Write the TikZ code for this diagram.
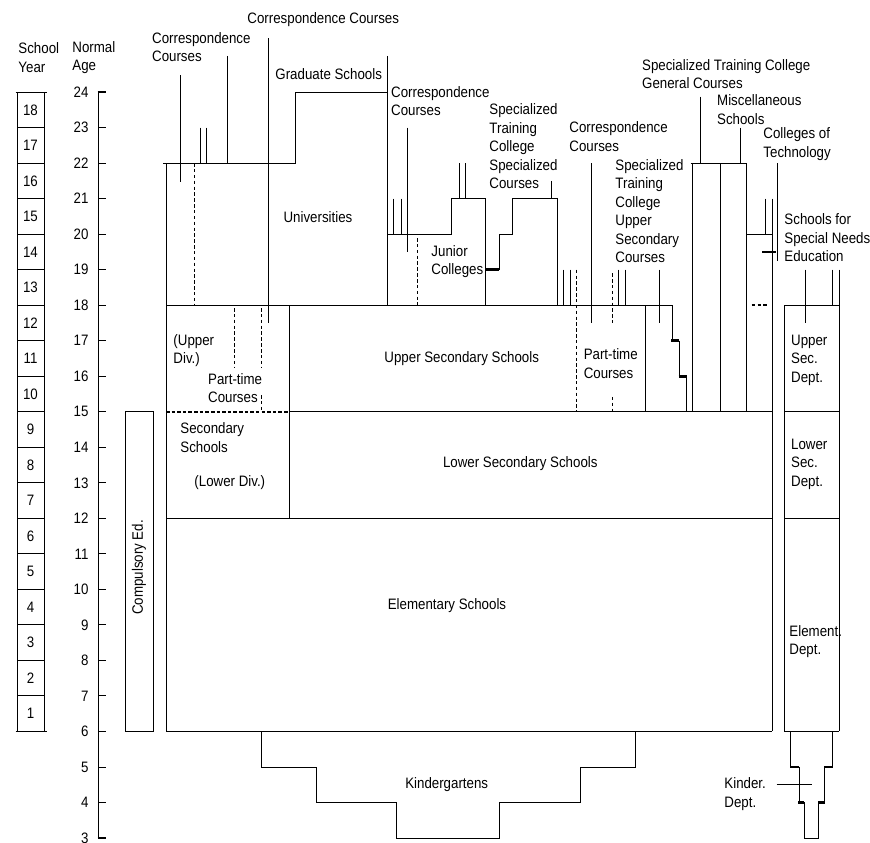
\documentclass[tikz,border=0pt]{standalone}
\usepackage{fontspec}
\setmainfont{Liberation Sans}[FakeStretch=0.88]
\newcommand\lblf{\fontsize{12.9}{15.8}\selectfont}
\begin{document}
\begin{tikzpicture}[x=0.03cm, y=1.0656cm, line width=0.8pt,
  lbl/.style={inner sep=0pt, align=left, font=\lblf},
  thk/.style={line width=2.2pt},
  dsh/.style={dash pattern=on 3pt off 2pt},
  tdsh/.style={line width=1.8pt, dash pattern=on 3pt off 1.8pt}]
\useasboundingbox (0,2.887) rectangle (870,26.592);

% ---------- School year column ----------
\draw (17,6) rectangle (44.5,24);
\foreach \a in {7,...,23} \draw (17,\a) -- (44.5,\a);
\draw (15.5,24) -- (46.5,24);
\draw (15.5,6) -- (46.5,6);
\foreach \n in {1,...,18} \node[lbl] (sy\n) at (30.5,5.5+\n) {\n};
\node[lbl, anchor=west] (syh) at (18,24.975) {School\\Year};

% ---------- Age axis ----------
\draw (98,3) -- (98,24);
\foreach \a in {4,...,23} \draw (98,\a) -- (106,\a);
\draw[line width=1.8pt] (97.5,24) -- (106,24);
\draw[line width=1.8pt] (97.5,3) -- (106,3);
\foreach \a in {3,...,24} \node[lbl, anchor=east] (ag\a) at (89,\a) {\a};
\node[lbl, anchor=west] (agh) at (72,24.975) {Normal\\Age};

% ---------- Compulsory ----------
\draw (125,6) rectangle (153,15);
\node[lbl, rotate=90] (comp) at (139,10.62) {Compulsory Ed.};

% ---------- Main frame ----------
\draw (166,6) -- (166,22);
\draw (163,22) -- (295,22) -- (295,24) -- (387,24);
\draw (387,25.02) -- (387,18);
\draw (166,18) -- (672,18);
\draw (166,12) -- (772,12);
\draw (166,6) -- (772,6);
\draw (772,21) -- (772,6);
\draw (289,18) -- (289,12);
\draw[tdsh] (166,15) -- (289,15);
\draw (289,15) -- (772,15);

% left correspondence / university lines
\draw (180,24.48) -- (180,21.47);
\draw (200.7,23) -- (200.7,22);
\draw (206.7,23) -- (206.7,22);
\draw (227.7,25.02) -- (227.7,22);
\draw (268,25.52) -- (268,17.5);
\draw[dsh] (194,22) -- (194,18);
\draw[dsh] (234.3,17.92) -- (234.3,16.26);
\draw[dsh] (261.7,17.92) -- (261.7,16.26);
\draw[dsh] (261.7,15.47) -- (261.7,15);

% junior colleges
\draw (387,20) -- (451.7,20) -- (451.7,21) -- (485.7,21) -- (485.7,18);
\draw (393.3,21) -- (393.3,20);
\draw (401,21) -- (401,20);
\draw (407.7,23) -- (407.7,19.5);
\draw[dsh] (417.7,19.89) -- (417.7,18);
\draw (459.3,22) -- (459.3,21);
\draw (465.7,22) -- (465.7,21);

% specialized training college specialized courses
\draw[thk] (485.7,19) -- (499,19);
\draw (499,19) -- (499,20) -- (512.7,20) -- (512.7,21) -- (557.3,21) -- (557.3,18);
\draw (551,21.5) -- (551,21);
\draw (563.3,19) -- (563.3,18);
\draw (570,19) -- (570,18);
\draw[dsh] (576.7,19) -- (576.7,15);
\draw (591,22) -- (591,17.5);
\draw[dsh] (612.3,18.9) -- (612.3,17.5);
\draw[dsh] (612.3,15.42) -- (612.3,15);
\draw (618.3,19) -- (618.3,18);
\draw (625,19) -- (625,18);
\draw (645,18) -- (645,15);
\draw (659,19) -- (659,17.5);

% STC upper secondary steps
\draw (672,18) -- (672,17);
\draw[thk] (671.2,17) -- (679.3,17);
\draw (679.3,17) -- (679.3,16);
\draw[thk] (678.5,16) -- (686.7,16);
\draw (686.7,16) -- (686.7,15);

% general courses / miscellaneous
\draw (690.7,22) -- (746.7,22);
\draw (692.5,22) -- (692.5,15);
\draw (720,22) -- (720,15);
\draw (746.7,22) -- (746.7,15);
\draw (700.7,23.87) -- (700.7,22);
\draw (740.7,23) -- (740.7,22);

% colleges of technology
\draw (746.7,20) -- (772,20);
\draw (765,21) -- (765,20);
\draw (777.5,22) -- (777.5,19.25);
\draw[thk] (762.3,19.5) -- (775.5,19.5);
\draw[line width=1.6pt, dash pattern=on 3pt off 2pt] (751.7,18) -- (768,18);

% special needs
\draw (784,18) -- (839,18);
\draw (784,18) -- (784,6) -- (839,6);
\draw (839,19) -- (839,6);
\draw (832.3,19) -- (832.3,18);
\draw (805,19) -- (805,17.5);
\draw (784,15) -- (839,15);
\draw (784,12) -- (839,12);

% kinder dept
\draw (790.7,6) -- (790.7,5);
\draw[thk] (790,5) -- (799,5);
\draw (799,5) -- (799,4);
\draw[thk] (798.3,4) -- (804.3,4);
\draw (804.3,4) -- (804.3,3) -- (818.3,3) -- (818.3,4);
\draw[thk] (818.3,4) -- (825,4);
\draw (824.3,4) -- (824.3,5);
\draw[thk] (824.3,5) -- (833.4,5);
\draw (832.7,5) -- (832.7,6);
\draw (776.7,4.51) -- (811.7,4.51);

% kindergartens
\draw (261,6) -- (261,5) -- (316,5) -- (316,4) -- (396.7,4) -- (396.7,3)
  -- (499.3,3) -- (499.3,4) -- (580,4) -- (580,5) -- (635,5) -- (635,6);

% ---------- Labels ----------
\node[lbl, anchor=west] (cc1) at (151.7,25.26) {Correspondence\\Courses};
\node[lbl, anchor=west] (cc2) at (247,26.03) {Correspondence Courses};
\node[lbl, anchor=west] (grad) at (275,24.51) {Graduate Schools};
\node[lbl] (univ) at (318,20.48) {Universities};
\node[lbl, anchor=west] (cc3) at (390.7,23.75) {Correspondence\\Courses};
\node[lbl, anchor=west] (stcs) at (489,22.47) {Specialized\\Training\\College\\Specialized\\Courses};
\node[lbl, anchor=west] (jc) at (431,19.23) {Junior\\Colleges};
\node[lbl, anchor=west] (cc4) at (569,22.75) {Correspondence\\Courses};
\node[lbl, anchor=west] (stcu) at (615,20.65) {Specialized\\Training\\College\\Upper\\Secondary\\Courses};
\node[lbl, anchor=west] (stcg) at (641.7,24.5) {Specialized Training College\\General Courses};
\node[lbl, anchor=west] (misc) at (716.7,23.5) {Miscellaneous\\Schools};
\node[lbl, anchor=west] (ct) at (763,22.54) {Colleges of\\Technology};
\node[lbl, anchor=west] (sne) at (784,19.89) {Schools for\\Special Needs\\Education};
\node[lbl, anchor=west] (ud) at (173,16.72) {(Upper\\Div.)};
\node[lbl, anchor=west] (pt1) at (207.7,15.66) {Part-time\\Courses};
\node[lbl, anchor=west] (uss) at (384,16.49) {Upper Secondary Schools};
\node[lbl, anchor=west] (pt2) at (583.3,16.36) {Part-time\\Courses};
\node[lbl, anchor=west] (usd) at (790.7,16.46) {Upper\\Sec.\\Dept.};
\node[lbl, anchor=west] (lsd) at (790.7,13.52) {Lower\\Sec.\\Dept.};
\node[lbl, anchor=west] (ss) at (180,14.27) {Secondary\\Schools};
\node[lbl, anchor=west] (ld) at (194,13.0) {(Lower Div.)};
\node[lbl, anchor=east] (lss) at (598,13.53) {Lower Secondary Schools};
\node[lbl] (es) at (447,9.53) {Elementary Schools};
\node[lbl, anchor=west] (ed) at (789,8.53) {Element.\\Dept.};
\node[lbl, anchor=west] (kd) at (724,4.24) {Kinder.\\Dept.};
\node[lbl] (kg) at (446.7,4.51) {Kindergartens};
\end{tikzpicture}
\end{document}
